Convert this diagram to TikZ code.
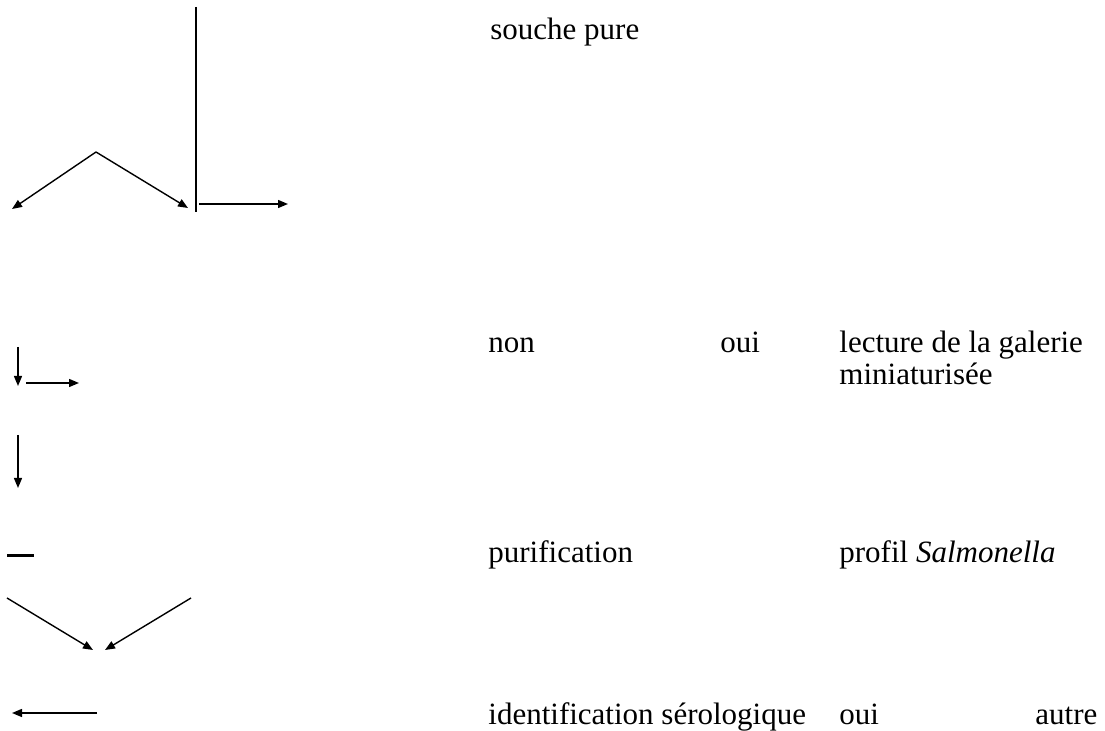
\documentclass[tikz,border=0pt]{standalone}
\usepackage{fontspec}
\setmainfont{Liberation Serif}
\usetikzlibrary{arrows.meta}
\tikzset{
    fleche/.style={-{Triangle[length=5pt,width=4pt]}, line width=0.7pt},
    trait/.style={line width=0.7pt},
    etiquette/.style={anchor=base west, inner sep=0pt, font=\fontsize{15.5}{17}\selectfont}
}

\begin{document}
\begin{tikzpicture}[x=0.5pt,y=-0.5pt]
    \useasboundingbox (0,0) rectangle (1105,731);
    % points des fleches
    \coordinate (vhaut) at (196,7);
    \coordinate (vbas) at (196,212);
    \coordinate (sommet) at (96,152);
    \coordinate (sgauche) at (12,209);
    \coordinate (sdroite) at (188,208);
    \coordinate (hdep) at (199,204);
    \coordinate (harr) at (288,204);
    \coordinate (d1haut) at (18,347);
    \coordinate (d1bas) at (18,386);
    \coordinate (h1dep) at (26,383);
    \coordinate (h1arr) at (79,383);
    \coordinate (d2haut) at (18,435);
    \coordinate (d2bas) at (18,488);
    \coordinate (tiretg) at (7,556);
    \coordinate (tiretd) at (34,556);
    \coordinate (cgauche) at (7,598);
    \coordinate (cgbout) at (93,650);
    \coordinate (cdroite) at (191,598);
    \coordinate (cdbout) at (105,650);
    \coordinate (gdep) at (97,713);
    \coordinate (garr) at (12,713);
    % textes
    \node[etiquette] (souche) at (490,40) {souche pure};
    \node[etiquette] (non) at (488,353) {non};
    \node[etiquette] (oui1) at (720,353) {oui};
    \node[etiquette] (lecture) at (839,353) {lecture de la galerie};
    \node[etiquette] (miniat) at (839,385) {miniaturisée};
    \node[etiquette] (purif) at (488,563) {purification};
    \node[etiquette] (profil) at (839,563) {profil \textit{Salmonella}};
    \node[etiquette] (ident) at (488,725) {identification sérologique};
    \node[etiquette] (oui2) at (839,725) {oui};
    \node[etiquette] (autre) at (1035,725) {autre};
    % traits et fleches
    \draw[trait] (vhaut) -- (vbas);
    \draw[fleche] (sommet) -- (sgauche);
    \draw[fleche] (sommet) -- (sdroite);
    \draw[fleche] (hdep) -- (harr);
    \draw[fleche] (d1haut) -- (d1bas);
    \draw[fleche] (h1dep) -- (h1arr);
    \draw[fleche] (d2haut) -- (d2bas);
    \draw[line width=1.5pt] (tiretg) -- (tiretd);
    \draw[fleche] (cgauche) -- (cgbout);
    \draw[fleche] (cdroite) -- (cdbout);
    \draw[fleche] (gdep) -- (garr);
\end{tikzpicture}
\end{document}
